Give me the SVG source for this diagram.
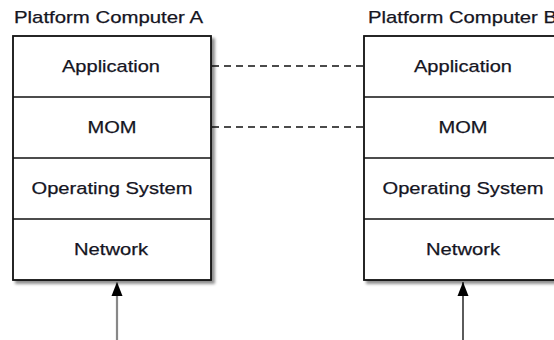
<svg xmlns="http://www.w3.org/2000/svg" width="554" height="340" viewBox="0 0 554 340">
  <style>
    .title { font-family: "Liberation Sans", Arial, sans-serif; font-size: 17px; fill: #15151f; stroke: #15151f; stroke-width: 0.25; }
    .layer { font-family: "Liberation Sans", Arial, sans-serif; font-size: 17px; fill: #15151f; stroke: #15151f; stroke-width: 0.25; text-anchor: middle; }
    .box { fill: #ffffff; stroke: #111111; stroke-width: 1.8; }
    .div { stroke: #111111; stroke-width: 1.6; }
    .peer { stroke: #111111; stroke-width: 1.5; stroke-dasharray: 7 5; fill: none; }
  </style>
  <defs>
    <filter id="shadow" x="-10%" y="-10%" width="130%" height="130%">
      <feGaussianBlur in="SourceAlpha" stdDeviation="1.5"/>
      <feOffset dx="3" dy="3" result="off"/>
      <feComponentTransfer><feFuncA type="linear" slope="0.45"/></feComponentTransfer>
      <feMerge><feMergeNode/><feMergeNode in="SourceGraphic"/></feMerge>
    </filter>
    <marker id="head" viewBox="0 0 14 12" refX="14" refY="6" markerWidth="14" markerHeight="12" markerUnits="userSpaceOnUse" orient="auto">
      <path d="M0,0.5 L14,6 L0,11.5 Z" fill="#000000"/>
    </marker>
  </defs>

  <rect width="554" height="340" fill="#ffffff"/>

  <!-- Platform Computer A stack -->
  <g id="computerA">
    <text class="title" x="14" y="23" textLength="189" lengthAdjust="spacingAndGlyphs">Platform Computer A</text>
    <rect class="box" x="13" y="36" width="198" height="244" filter="url(#shadow)"/>
    <line class="div" x1="13" y1="97" x2="211" y2="97"/>
    <line class="div" x1="13" y1="158" x2="211" y2="158"/>
    <line class="div" x1="13" y1="219" x2="211" y2="219"/>
    <text class="layer" x="111" y="72" textLength="98" lengthAdjust="spacingAndGlyphs">Application</text>
    <text class="layer" x="112" y="133" textLength="49" lengthAdjust="spacingAndGlyphs">MOM</text>
    <text class="layer" x="112" y="194" textLength="161" lengthAdjust="spacingAndGlyphs">Operating System</text>
    <text class="layer" x="111" y="255" textLength="74" lengthAdjust="spacingAndGlyphs">Network</text>
  </g>

  <!-- Platform Computer B stack -->
  <g id="computerB">
    <text class="title" x="368" y="23" textLength="189" lengthAdjust="spacingAndGlyphs">Platform Computer B</text>
    <rect class="box" x="364" y="36" width="198" height="244" filter="url(#shadow)"/>
    <line class="div" x1="364" y1="97" x2="562" y2="97"/>
    <line class="div" x1="364" y1="158" x2="562" y2="158"/>
    <line class="div" x1="364" y1="219" x2="562" y2="219"/>
    <text class="layer" x="463" y="72" textLength="98" lengthAdjust="spacingAndGlyphs">Application</text>
    <text class="layer" x="463" y="133" textLength="49" lengthAdjust="spacingAndGlyphs">MOM</text>
    <text class="layer" x="463" y="194" textLength="161" lengthAdjust="spacingAndGlyphs">Operating System</text>
    <text class="layer" x="463" y="255" textLength="74" lengthAdjust="spacingAndGlyphs">Network</text>
  </g>

  <!-- Connectors: peer links and incoming network lines -->
  <g id="connectors">
    <line class="peer" x1="212" y1="66" x2="364" y2="66"/>
    <line class="peer" x1="212" y1="127" x2="364" y2="127"/>
    <line x1="117" y1="340" x2="117" y2="282" stroke="#888888" stroke-width="2.2" marker-end="url(#head)"/>
    <line x1="463" y1="340" x2="463" y2="282" stroke="#333333" stroke-width="1.6" marker-end="url(#head)"/>
  </g>
</svg>
